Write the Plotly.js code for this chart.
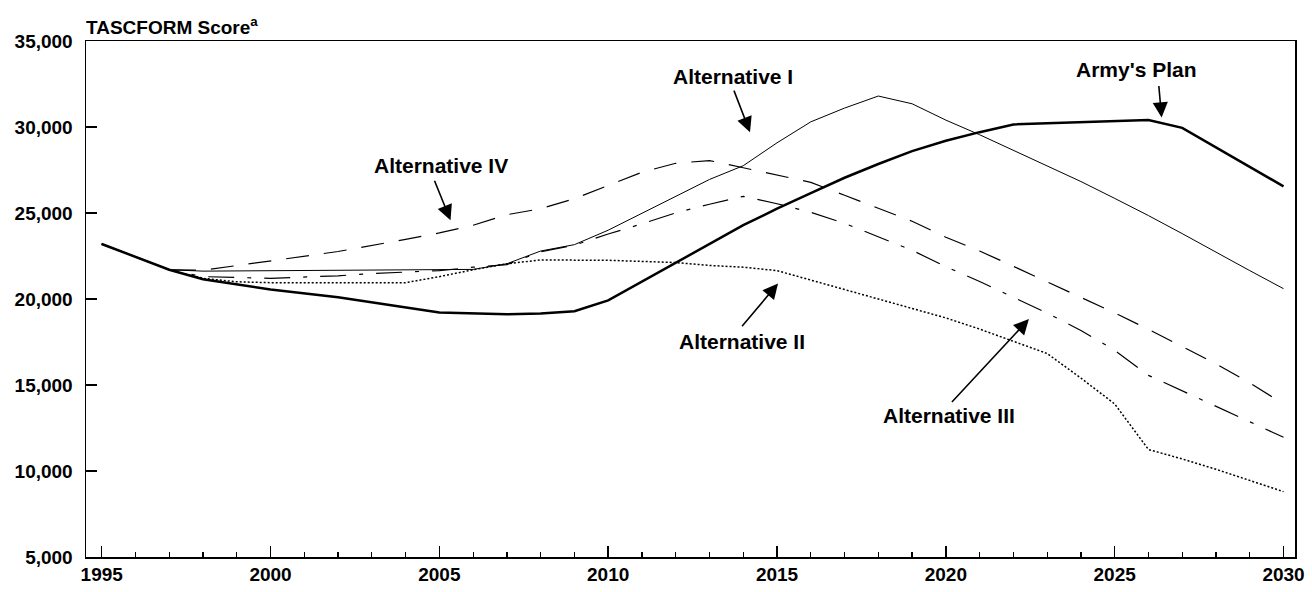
<!DOCTYPE html>
<html>
<head>
<meta charset="utf-8">
<script src="https://cdn.plot.ly/plotly-3.0.1.min.js"></script>
<style>
  html, body { margin: 0; padding: 0; background: #fff; }
  #chart { width: 1312px; height: 592px; }
</style>
</head>
<body>
<div id="chart"></div>
<script>
// ---- Data ----
const armyYears = [1995,1997,1998,2000,2002,2004,2005,2007,2008,2009,2010,2014,2015,2016,2017,2018,2019,2020,2021,2022,2026,2027,2030];
const armyPlan  = [23200,21700,21150,20550,20100,19500,19220,19110,19150,19290,19920,24290,25250,26150,27050,27850,28600,29200,29700,30150,30400,29950,26550];

const alt1Years = [1995,1997,1998,2006,2007,2008,2009,2010,2013,2014,2015,2016,2017,2018,2019,2020,2021,2022,2023,2024,2025,2026,2027,2028,2029,2030];
const alt1      = [23200,21700,21620,21720,22050,22790,23160,24000,26950,27750,29080,30300,31100,31800,31350,30400,29550,28650,27750,26830,25850,24850,23800,22700,21650,20600];

const alt2Years = [1995,1997,1998,1999,2000,2004,2005,2006,2007,2008,2010,2011,2012,2013,2014,2015,2016,2017,2018,2019,2020,2021,2022,2023,2024,2025,2026,2027,2028,2029,2030];
const alt2      = [23200,21700,21200,21000,20950,20950,21300,21700,22050,22270,22250,22200,22120,21950,21850,21650,21100,20560,20030,19490,18900,18250,17550,16830,15400,13900,11250,10700,10100,9450,8800];

const alt3Years = [1995,1997,1998,2000,2002,2003,2005,2006,2007,2008,2009,2010,2011,2012,2013,2014,2015,2016,2017,2018,2019,2020,2021,2022,2023,2024,2025,2026,2027,2028,2029,2030];
const alt3      = [23200,21700,21300,21200,21350,21480,21650,21850,22000,22750,23130,23780,24370,25010,25510,25970,25540,25040,24400,23600,22830,21880,21020,20100,19180,18170,17020,15560,14660,13760,12860,11960];

const alt4Years = [1995,1997,1998,2000,2002,2004,2005,2006,2007,2008,2009,2010,2011,2012,2013,2014,2015,2016,2017,2018,2019,2020,2021,2022,2023,2024,2025,2026,2027,2028,2029,2030];
const alt4      = [23200,21700,21670,22220,22760,23470,23840,24290,24900,25250,25830,26600,27370,27890,28050,27630,27210,26780,26030,25270,24520,23590,22790,21900,21000,20100,19190,18240,17250,16230,15120,13900];

const seriesNames = ["Alternative I","Alternative II","Alternative III","Alternative IV","Army's Plan"];
const yTitle = "TASCFORM Score";
const yTitleSup = "a";

// label text, arrow tip (year, score), label & arrow-tail offsets (px)
const labels = [
  {name: "Alternative I",   tipYear: 2014.2,  tipScore: 29700, tail: [-17, -44], text: [-17, -56]},
  {name: "Army's Plan",     tipYear: 2026.39, tipScore: 30550, tail: [-3, -34],  text: [-25, -48]},
  {name: "Alternative IV",  tipYear: 2005.33, tipScore: 24580, tail: [-17, -42], text: [-10, -55]},
  {name: "Alternative II",  tipYear: 2015.03, tipScore: 20900, tail: [-38, 45],  text: [-36, 58]},
  {name: "Alternative III", tipYear: 2022.46, tipScore: 18830, tail: [-79, 85],  text: [-80, 96]}
];

// ---- Traces ----
const black = '#000000';
const traces = [
  {x: alt1Years, y: alt1, name: seriesNames[0], mode: 'lines', line: {color: black, width: 1}},
  {x: alt2Years, y: alt2, name: seriesNames[1], mode: 'lines', line: {color: black, width: 1.5, dash: '2px,2px'}},
  {x: alt3Years, y: alt3, name: seriesNames[2], mode: 'lines', line: {color: black, width: 1.2, dash: '26px,13px,4px,13px'}},
  {x: alt4Years, y: alt4, name: seriesNames[3], mode: 'lines', line: {color: black, width: 1.2, dash: '23px,15px'}},
  {x: armyYears, y: armyPlan, name: seriesNames[4], mode: 'lines', line: {color: black, width: 2.5}}
];

const fam = 'Liberation Sans, Arial, Helvetica, sans-serif';
const boldFont = {family: fam, size: 19, color: black, weight: 'bold'};

const annotations = [];
labels.forEach(l => {
  // arrow
  annotations.push({
    x: l.tipYear, y: l.tipScore, xref: 'x', yref: 'y',
    text: ' ', showarrow: true, ax: l.tail[0], ay: l.tail[1],
    arrowhead: 2, arrowsize: 1.9, arrowwidth: 1.6, arrowcolor: black, standoff: 0,
    font: {family: fam, size: 2, color: black}
  });
  // text
  annotations.push({
    x: l.tipYear, y: l.tipScore, xref: 'x', yref: 'y',
    text: l.name, showarrow: false, xshift: l.text[0], yshift: -l.text[1],
    xanchor: 'center', yanchor: 'middle',
    font: {family: fam, size: 21, color: black, weight: 'bold'}
  });
});
annotations.push({
  xref: 'paper', yref: 'paper', x: 0, y: 1, xanchor: 'left', yanchor: 'bottom',
  text: yTitle + '<sup>' + yTitleSup + '</sup>', showarrow: false, yshift: 1, xshift: -2,
  font: {family: fam, size: 19, color: black, weight: 'bold'}
});

const layout = {
  width: 1312, height: 592,
  margin: {l: 86, r: 17, t: 41, b: 35},
  paper_bgcolor: '#fff', plot_bgcolor: '#fff',
  showlegend: false,
  font: boldFont,
  xaxis: {
    range: [1994.535, 2030.34], tick0: 1995, dtick: 5,
    ticks: 'inside', ticklen: 11, tickwidth: 1.5, tickcolor: black,
    showline: true, mirror: true, linewidth: 1.5, linecolor: black,
    showgrid: false, zeroline: false,
    tickfont: boldFont,
    minor: {tick0: 1995, dtick: 1, ticks: 'inside', ticklen: 5, tickwidth: 1.2, tickcolor: black, showgrid: false}
  },
  yaxis: {
    range: [5000, 35000], tick0: 5000, dtick: 5000, tickformat: ',',
    ticks: 'inside', ticklen: 11, tickwidth: 1.5, tickcolor: black,
    showline: true, mirror: true, linewidth: 1.5, linecolor: black,
    showgrid: false, zeroline: false,
    tickfont: boldFont, ticklabelstandoff: 8
  },
  annotations: annotations
};

Plotly.newPlot('chart', traces, layout, {displayModeBar: false, staticPlot: true});
</script>
</body>
</html>
